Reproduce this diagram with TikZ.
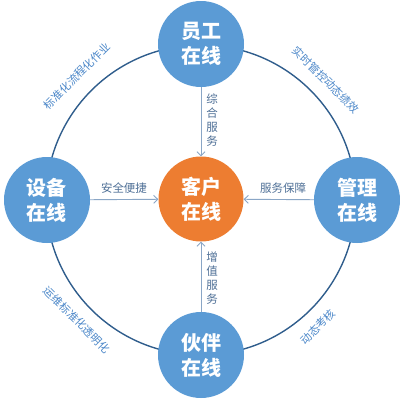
\documentclass[tikz,border=0pt]{standalone}
\usepackage{fontspec}
\setmainfont{Noto Sans CJK SC}
\newfontfamily\cjk{Noto Sans CJK SC}
\usetikzlibrary{arrows.meta}
\definecolor{bluefill}{HTML}{5B9BD5}
\definecolor{orangefill}{HTML}{ED7D31}
\definecolor{ringcol}{HTML}{2F5D8C}
\definecolor{arrcol}{HTML}{8AA6C6}
\definecolor{arrtext}{HTML}{4E6F96}
\definecolor{arctext}{HTML}{4A86C8}
\tikzset{
  bubble/.style={circle, fill=bluefill, minimum size=86pt, inner sep=0pt, text=white, align=center, font=\cjk\bfseries\fontsize{20}{25}\selectfont},
  custbubble/.style={bubble, fill=orangefill, minimum size=85pt},
  arr/.style={draw=arrcol, line width=0.9pt, -{Straight Barb[length=4pt,width=8pt]}},
  arrlab/.style={text=arrtext, inner sep=1pt, align=center, font=\cjk\fontsize{11.5}{14}\selectfont},
  arclab/.style={text=arctext, inner sep=1pt, font=\cjk\fontsize{11}{13}\selectfont},
}
\begin{document}
\begin{tikzpicture}[x=1pt,y=-1pt]
\useasboundingbox (0,0) rectangle (400,400);
\coordinate (c) at (201,200);
\draw[ringcol, line width=1.4pt] (c) circle[radius=155pt];
\node[bubble] (emp) at (201,44) {员工\\在线};
\node[bubble] (dev) at (47,200) {设备\\在线};
\node[bubble] (mgr) at (357,200) {管理\\在线};
\node[bubble] (par) at (201,355) {伙伴\\在线};
\node[custbubble] (cust) at (201,199) {客户\\在线};
\draw[arr] (emp) -- (cust);
\draw[arr] (dev) -- (cust);
\draw[arr] (mgr) -- (cust);
\draw[arr] (par) -- (cust);
\node[arrlab] (l1) at (212,120) {综\\合\\服\\务};
\node[arrlab] (l2) at (124,188) {安全便捷};
\node[arrlab] (l3) at (283,188) {服务保障};
\node[arrlab] (l4) at (212,278) {增\\值\\服\\务};
\node[arclab, rotate=45] (a1) at (77,76) {标准化流程化作业};
\node[arclab, rotate=-45] (a2) at (326,80) {实时管控动态绩效};
\node[arclab, rotate=-45] (a3) at (77,320) {运维标准化透明化};
\node[arclab, rotate=45] (a4) at (318,327) {动态考核};
\end{tikzpicture}
\end{document}
